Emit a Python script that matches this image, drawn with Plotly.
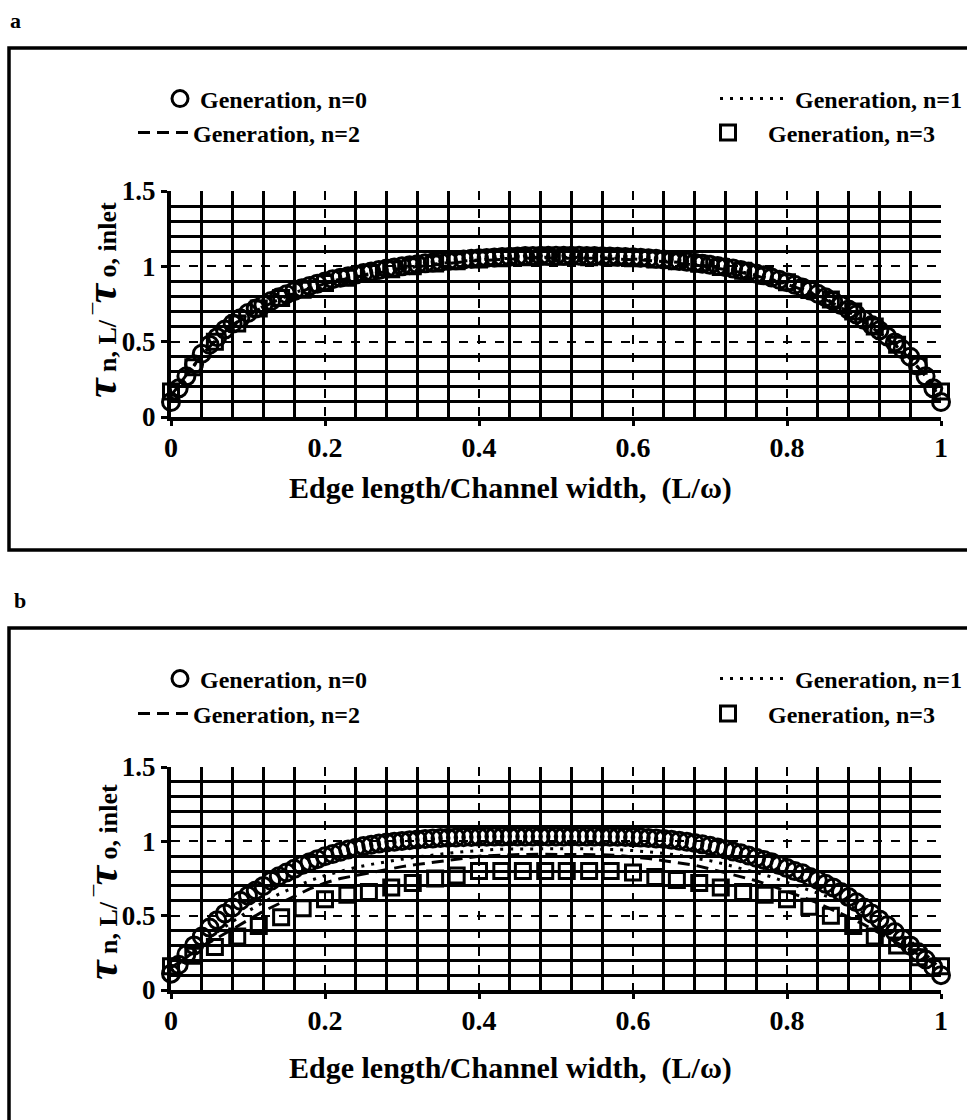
import plotly.graph_objects as go

# ---------------- data ----------------
x101 = [0.00, 0.01, 0.02, 0.03, 0.04, 0.05, 0.06, 0.07, 0.08, 0.09,
        0.10, 0.11, 0.12, 0.13, 0.14, 0.15, 0.16, 0.17, 0.18, 0.19,
        0.20, 0.21, 0.22, 0.23, 0.24, 0.25, 0.26, 0.27, 0.28, 0.29,
        0.30, 0.31, 0.32, 0.33, 0.34, 0.35, 0.36, 0.37, 0.38, 0.39,
        0.40, 0.41, 0.42, 0.43, 0.44, 0.45, 0.46, 0.47, 0.48, 0.49,
        0.50, 0.51, 0.52, 0.53, 0.54, 0.55, 0.56, 0.57, 0.58, 0.59,
        0.60, 0.61, 0.62, 0.63, 0.64, 0.65, 0.66, 0.67, 0.68, 0.69,
        0.70, 0.71, 0.72, 0.73, 0.74, 0.75, 0.76, 0.77, 0.78, 0.79,
        0.80, 0.81, 0.82, 0.83, 0.84, 0.85, 0.86, 0.87, 0.88, 0.89,
        0.90, 0.91, 0.92, 0.93, 0.94, 0.95, 0.96, 0.97, 0.98, 0.99,
        1.00]
x51 = [0.00, 0.02, 0.04, 0.06, 0.08, 0.10, 0.12, 0.14, 0.16, 0.18,
       0.20, 0.22, 0.24, 0.26, 0.28, 0.30, 0.32, 0.34, 0.36, 0.38,
       0.40, 0.42, 0.44, 0.46, 0.48, 0.50, 0.52, 0.54, 0.56, 0.58,
       0.60, 0.62, 0.64, 0.66, 0.68, 0.70, 0.72, 0.74, 0.76, 0.78,
       0.80, 0.82, 0.84, 0.86, 0.88, 0.90, 0.92, 0.94, 0.96, 0.98,
       1.00]
x36 = [0.000, 0.029, 0.057, 0.086, 0.114, 0.143, 0.171, 0.200, 0.229, 0.257,
       0.286, 0.314, 0.343, 0.371, 0.400, 0.429, 0.457, 0.486, 0.514, 0.543,
       0.571, 0.600, 0.629, 0.657, 0.686, 0.714, 0.743, 0.771, 0.800, 0.829,
       0.857, 0.886, 0.914, 0.943, 0.971, 1.000]

# panel a
a_n0 = [0.10, 0.19, 0.27, 0.35, 0.42, 0.48, 0.53, 0.58, 0.62, 0.655,
        0.69, 0.72, 0.745, 0.77, 0.795, 0.815, 0.835, 0.855, 0.87, 0.885,
        0.90, 0.915, 0.925, 0.935, 0.945, 0.955, 0.965, 0.975, 0.985, 0.992,
        1.00, 1.007, 1.013, 1.02, 1.025, 1.03, 1.035, 1.04, 1.045, 1.05,
        1.053, 1.056, 1.059, 1.062, 1.064, 1.066, 1.068, 1.069, 1.07, 1.071,
        1.071, 1.071, 1.07, 1.07, 1.069, 1.068, 1.067, 1.066, 1.064, 1.062,
        1.06, 1.057, 1.054, 1.05, 1.046, 1.041, 1.036, 1.03, 1.024, 1.017,
        1.01, 1.002, 0.994, 0.985, 0.975, 0.964, 0.952, 0.94, 0.926, 0.911,
        0.895, 0.878, 0.86, 0.84, 0.818, 0.795, 0.77, 0.743, 0.713, 0.68,
        0.645, 0.61, 0.575, 0.535, 0.495, 0.45, 0.40, 0.34, 0.27, 0.19,
        0.10]
a_n1 = [0.12, 0.27, 0.41, 0.52, 0.61, 0.68, 0.735, 0.785, 0.825, 0.86,
        0.89, 0.915, 0.935, 0.955, 0.975, 0.99, 1.003, 1.015, 1.025, 1.035,
        1.043, 1.049, 1.054, 1.058, 1.06, 1.061, 1.06, 1.059, 1.057, 1.054,
        1.05, 1.044, 1.036, 1.026, 1.014, 1.0, 0.984, 0.965, 0.942, 0.916,
        0.885, 0.85, 0.808, 0.76, 0.703, 0.635, 0.565, 0.485, 0.39, 0.27,
        0.12]
a_n2 = [0.14, 0.28, 0.41, 0.52, 0.61, 0.675, 0.73, 0.78, 0.82, 0.855,
        0.885, 0.91, 0.93, 0.95, 0.97, 0.985, 0.998, 1.01, 1.02, 1.03,
        1.038, 1.044, 1.049, 1.053, 1.055, 1.056, 1.055, 1.054, 1.052, 1.049,
        1.045, 1.039, 1.031, 1.021, 1.009, 0.995, 0.979, 0.96, 0.937, 0.911,
        0.88, 0.845, 0.803, 0.755, 0.698, 0.63, 0.56, 0.48, 0.385, 0.275,
        0.14]
a_n3 = [0.17, 0.33, 0.50, 0.62, 0.72, 0.79, 0.845, 0.89, 0.925, 0.955,
        0.98, 1.0, 1.018, 1.033, 1.045, 1.054, 1.06, 1.063, 1.063, 1.061,
        1.058, 1.053, 1.045, 1.033, 1.017, 0.996, 0.97, 0.937, 0.895, 0.843,
        0.78, 0.70, 0.60, 0.48, 0.34, 0.17]

# panel b
b_n0 = [0.11, 0.17, 0.24, 0.30, 0.36, 0.42, 0.47, 0.515, 0.555, 0.60,
        0.635, 0.67, 0.70, 0.735, 0.765, 0.79, 0.815, 0.84, 0.86, 0.88,
        0.90, 0.915, 0.93, 0.945, 0.957, 0.968, 0.977, 0.985, 0.992, 0.998,
        1.003, 1.008, 1.012, 1.016, 1.019, 1.022, 1.024, 1.026, 1.028, 1.029,
        1.03, 1.031, 1.032, 1.032, 1.033, 1.033, 1.033, 1.033, 1.033, 1.033,
        1.033, 1.033, 1.033, 1.033, 1.032, 1.032, 1.031, 1.03, 1.03, 1.029,
        1.027, 1.025, 1.022, 1.019, 1.015, 1.01, 1.004, 0.997, 0.989, 0.98,
        0.97, 0.958, 0.946, 0.932, 0.92, 0.905, 0.89, 0.875, 0.86, 0.84,
        0.82, 0.80, 0.785, 0.76, 0.74, 0.715, 0.69, 0.66, 0.625, 0.59,
        0.555, 0.515, 0.475, 0.435, 0.39, 0.345, 0.30, 0.255, 0.205, 0.155,
        0.10]
b_n1 = [0.13, 0.22, 0.31, 0.39, 0.46, 0.53, 0.59, 0.645, 0.69, 0.735,
        0.77, 0.80, 0.825, 0.845, 0.865, 0.88, 0.895, 0.91, 0.92, 0.93,
        0.94, 0.945, 0.948, 0.95, 0.951, 0.951, 0.951, 0.95, 0.948, 0.944,
        0.938, 0.93, 0.92, 0.905, 0.89, 0.87, 0.845, 0.82, 0.79, 0.76,
        0.725, 0.69, 0.655, 0.615, 0.57, 0.52, 0.465, 0.40, 0.33, 0.24,
        0.14]
b_n2 = [0.15, 0.22, 0.29, 0.35, 0.41, 0.47, 0.53, 0.58, 0.63, 0.68,
        0.72, 0.75, 0.77, 0.79, 0.81, 0.83, 0.845, 0.86, 0.875, 0.89,
        0.90, 0.905, 0.91, 0.912, 0.913, 0.913, 0.913, 0.912, 0.91, 0.905,
        0.895, 0.885, 0.87, 0.855, 0.84, 0.815, 0.79, 0.765, 0.735, 0.70,
        0.665, 0.625, 0.585, 0.54, 0.49, 0.44, 0.385, 0.33, 0.27, 0.21,
        0.15]
b_n3 = [0.16, 0.23, 0.29, 0.36, 0.43, 0.49, 0.55, 0.61, 0.64, 0.66,
        0.69, 0.72, 0.75, 0.77, 0.80, 0.80, 0.80, 0.80, 0.80, 0.80,
        0.80, 0.79, 0.76, 0.74, 0.72, 0.69, 0.66, 0.64, 0.61, 0.56,
        0.50, 0.43, 0.36, 0.30, 0.22, 0.16]

series_names = ["Generation, n=0", "Generation, n=1", "Generation, n=2", "Generation, n=3"]
x_ticks = [0, 0.2, 0.4, 0.6, 0.8, 1]
x_ticklabels = ["0", "0.2", "0.4", "0.6", "0.8", "1"]
x_minor = [0.04, 0.08, 0.12, 0.16, 0.24, 0.28, 0.32, 0.36, 0.44, 0.48, 0.52, 0.56,
           0.64, 0.68, 0.72, 0.76, 0.84, 0.88, 0.92, 0.96]
y_ticks = [0, 0.5, 1, 1.5]
y_ticklabels = ["0", "0.5", "1", "1.5"]
y_minor = [0.1, 0.2, 0.3, 0.4, 0.6, 0.7, 0.8, 0.9, 1.1, 1.2, 1.3, 1.4]
x_title = "Edge length/Channel width,  (L/ω)"

# ---------------- styling ----------------
W, H = 967, 1120
FONT = "Liberation Serif"


def px(x):
    return x / W


def py(y):
    return 1 - y / H


def tfont(size):
    return dict(family=FONT, size=size, color="black", weight="bold")


fig = go.Figure()

panels = [
    dict(xa="x", ya="y", data=[(x101, a_n0), (x51, a_n1), (x51, a_n2), (x36, a_n3)], leg0=1),
    dict(xa="x2", ya="y2", data=[(x101, b_n0), (x51, b_n1), (x51, b_n2), (x36, b_n3)], leg0=5),
]

for p in panels:
    for i, (xs, ys) in enumerate(p["data"]):
        leg = "legend" if p["leg0"] + i == 1 else "legend%d" % (p["leg0"] + i)
        common = dict(x=xs, y=ys, xaxis=p["xa"], yaxis=p["ya"], name=series_names[i],
                      legend=leg, cliponaxis=False, showlegend=True)
        if i == 0:
            fig.add_trace(go.Scatter(mode="markers",
                                     marker=dict(symbol="circle-open", size=17, color="black",
                                                 line=dict(width=3, color="black")), **common))
        elif i == 1:
            fig.add_trace(go.Scatter(mode="lines", line=dict(color="black", width=3, dash="3px,7px"), **common))
        elif i == 2:
            fig.add_trace(go.Scatter(mode="lines", line=dict(color="black", width=3, dash="12px,7px"), **common))
        else:
            fig.add_trace(go.Scatter(mode="markers",
                                     marker=dict(symbol="square-open", size=15, color="black",
                                                 line=dict(width=3, color="black")), **common))


def xaxis_style(y_anchor):
    return dict(domain=[px(171), px(941)], anchor=y_anchor, range=[0, 1],
                tickvals=x_ticks, ticktext=x_ticklabels,
                showgrid=True, gridcolor="black", gridwidth=1.5, griddash="dash",
                minor=dict(tickvals=x_minor, showgrid=True, gridcolor="black",
                           gridwidth=2.5, griddash="solid", ticks=""),
                showline=True, linecolor="black", linewidth=4,
                ticks="outside", ticklen=5, tickwidth=3, tickcolor="black",
                ticklabelstandoff=-3,
                tickfont=tfont(28), zeroline=False)


def yaxis_style(domain, x_anchor):
    return dict(domain=domain, anchor=x_anchor, range=[0, 1.5],
                tickvals=y_ticks, ticktext=y_ticklabels,
                showgrid=True, gridcolor="black", gridwidth=1.5, griddash="dash",
                minor=dict(tickvals=y_minor, showgrid=True, gridcolor="black",
                           gridwidth=2.5, griddash="solid", ticks=""),
                showline=True, linecolor="black", linewidth=4,
                ticks="outside", ticklen=6, tickwidth=3, tickcolor="black",
                tickfont=tfont(27), zeroline=False)


legend_pos = {
    1: (160, 99, 30), 2: (715, 99, 70), 3: (133, 133, 50), 4: (688, 133, 70),
    5: (160, 679, 30), 6: (715, 679, 70), 7: (133, 714, 50), 8: (688, 714, 70),
}
legends = {}
for k, (lx, ly, iw) in legend_pos.items():
    key = "legend" if k == 1 else "legend%d" % k
    legends[key] = dict(x=px(lx), y=py(ly), xref="container", yref="container",
                        xanchor="left", yanchor="middle",
                        orientation="h", bgcolor="rgba(0,0,0,0)", borderwidth=0,
                        font=tfont(24), itemwidth=iw)

ytitle = ('<i><span style="font-size:44px">τ</span></i> n, L/ '
          '<span style="font-size:30px">‾</span><i><span style="font-size:44px">τ</span></i>'
          ' o, inlet')

annotations = []
for lab, lx, ly in [("a", 15, 20), ("b", 20, 600)]:
    annotations.append(dict(text=lab, x=px(lx), y=py(ly), xref="paper", yref="paper",
                            showarrow=False, font=tfont(22), xanchor="center", yanchor="middle"))
for ty in (488, 1068):
    annotations.append(dict(text=x_title, x=px(510), y=py(ty), xref="paper", yref="paper",
                            showarrow=False, font=tfont(30), xanchor="center", yanchor="middle"))
for cy in (300, 882):
    annotations.append(dict(text=ytitle, x=px(102), y=py(cy), xref="paper", yref="paper",
                            showarrow=False, font=tfont(26), textangle=-90,
                            xanchor="center", yanchor="middle"))

shapes = [
    dict(type="rect", xref="paper", yref="paper", x0=px(9), x1=1.05, y0=py(550), y1=py(48),
         line=dict(color="black", width=3.5), fillcolor="rgba(0,0,0,0)", layer="above"),
    dict(type="rect", xref="paper", yref="paper", x0=px(9), x1=1.05, y0=-0.05, y1=py(628),
         line=dict(color="black", width=3.5), fillcolor="rgba(0,0,0,0)", layer="above"),
]

fig.update_layout(
    width=W, height=H, margin=dict(l=0, r=0, t=0, b=0, autoexpand=False),
    paper_bgcolor="white", plot_bgcolor="white",
    xaxis=xaxis_style("y"), yaxis=yaxis_style([py(417), py(191)], "x"),
    xaxis2=xaxis_style("y2"), yaxis2=yaxis_style([py(990), py(767)], "x2"),
    annotations=annotations, shapes=shapes,
    **legends,
)

fig.write_html("out.html")
